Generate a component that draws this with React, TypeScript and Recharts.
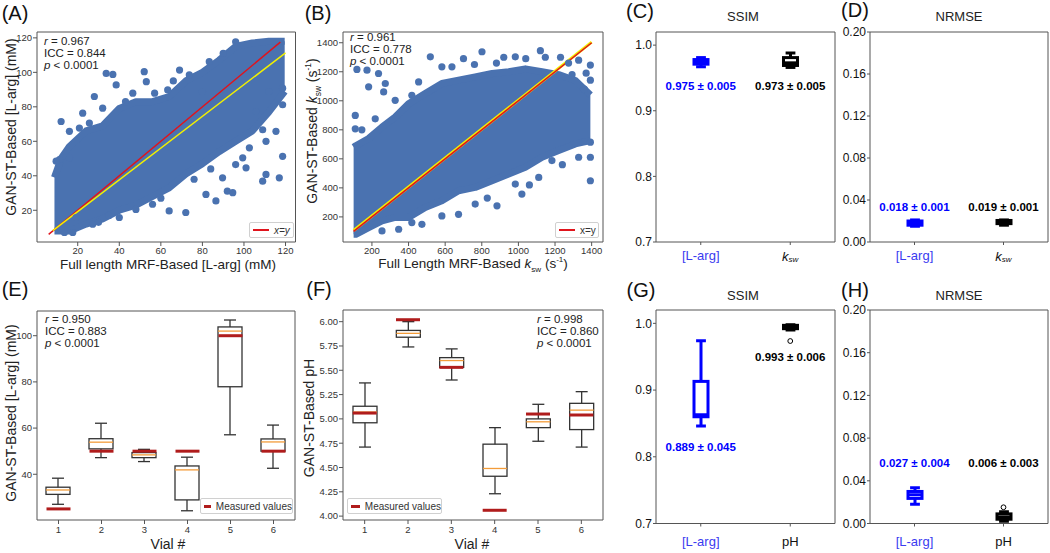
import React from 'react';
import {
  ComposedChart,
  Area,
  Scatter,
  Bar,
  XAxis,
  YAxis,
  ReferenceLine,
  ReferenceArea
} from 'recharts';

const NARROW = "'Liberation Sans Narrow', 'Liberation Sans', Arial, sans-serif";
const SANS = "'Liberation Sans', Arial, sans-serif";
const DOT = '#4a72b0';
const BLUE = '#0000ff';

// ---------- (A) L-arg scatter ----------
const lArgTicks = [20, 40, 60, 80, 100, 120];
// dense part of the cloud: lower / upper edge read along x
const lArgCore = [
  { x: 8.8, lo: 8, hi: 39 },
  { x: 12, lo: 8, hi: 50 },
  { x: 16, lo: 8, hi: 57 },
  { x: 24, lo: 12, hi: 66 },
  { x: 32, lo: 15, hi: 69 },
  { x: 40, lo: 20, hi: 79 },
  { x: 48, lo: 23, hi: 83 },
  { x: 56, lo: 28, hi: 83 },
  { x: 64, lo: 33, hi: 86 },
  { x: 72, lo: 41, hi: 95 },
  { x: 80, lo: 47, hi: 100 },
  { x: 88, lo: 54, hi: 107 },
  { x: 96, lo: 60, hi: 115 },
  { x: 104, lo: 66, hi: 117 },
  { x: 112, lo: 77, hi: 118 },
  { x: 119.6, lo: 89, hi: 118 }
];
const lArgPoints = [
  { x: 12, y: 71.5 }, { x: 28, y: 86 }, { x: 33.7, y: 99.4 }, { x: 36.9, y: 98.8 },
  { x: 38.5, y: 92.7 }, { x: 52, y: 100.4 }, { x: 53, y: 94.6 }, { x: 46.5, y: 87.9 },
  { x: 57, y: 87.9 }, { x: 69, y: 101.3 }, { x: 22.4, y: 76.3 }, { x: 16, y: 65.8 },
  { x: 20.8, y: 67.7 }, { x: 11.2, y: 49.4 }, { x: 16, y: 50.4 }, { x: 118.6, y: 51.3 },
  { x: 117, y: 38.8 }, { x: 109, y: 36.9 }, { x: 110.6, y: 40.8 }, { x: 92, y: 31.1 },
  { x: 94.6, y: 30.2 }, { x: 64, y: 19.6 }, { x: 72, y: 18.7 }, { x: 81.7, y: 29.2 },
  { x: 86.5, y: 25.4 }, { x: 109, y: 66.7 }, { x: 110.6, y: 60 }, { x: 115.4, y: 65.8 },
  { x: 102.6, y: 56.2 }, { x: 99.4, y: 50.4 }, { x: 101, y: 44.6 }, { x: 96, y: 46.5 },
  { x: 89.7, y: 38.8 }, { x: 105.8, y: 77.3 }, { x: 118.6, y: 81.2 }, { x: 112, y: 88.9 },
  { x: 118.6, y: 90.8 }, { x: 19.2, y: 15.8 }, { x: 17.6, y: 7.1 }, { x: 13.6, y: 7.1 },
  { x: 27.2, y: 11.9 }, { x: 40, y: 15.8 }, { x: 48, y: 20.5 }, { x: 56, y: 23.5 },
  { x: 73.7, y: 98.5 }, { x: 83.3, y: 106.2 }, { x: 96, y: 117.7 }, { x: 80, y: 88.9 },
  { x: 43, y: 83 }, { x: 63.3, y: 89.8 }, { x: 32, y: 79.2 }, { x: 9.6, y: 48.5 },
  { x: 25.6, y: 70.6 }, { x: 60, y: 27 }, { x: 76, y: 38 }, { x: 84, y: 44 },
  { x: 30, y: 13 }, { x: 35, y: 17 }, { x: 66, y: 95 }, { x: 90, y: 111 }
];
const lArgIdentity = [{ x: 6, y: 6 }, { x: 117.5, y: 117.5 }];
const lArgFit = [{ x: 8, y: 8.2 }, { x: 120, y: 111.3 }];

// ---------- (B) ksw scatter ----------
const kswTicks = [200, 400, 600, 800, 1000, 1200, 1400];
const kswCore = [
  { x: 100, lo: 80, hi: 680 },
  { x: 112, lo: 80, hi: 690 },
  { x: 182, lo: 126, hi: 740 },
  { x: 255, lo: 172, hi: 819 },
  { x: 327, lo: 196, hi: 888 },
  { x: 400, lo: 196, hi: 980 },
  { x: 491, lo: 265, hi: 1050 },
  { x: 582, lo: 311, hi: 1119 },
  { x: 673, lo: 380, hi: 1142 },
  { x: 764, lo: 403, hi: 1165 },
  { x: 856, lo: 449, hi: 1188 },
  { x: 947, lo: 496, hi: 1200 },
  { x: 1038, lo: 542, hi: 1220 },
  { x: 1129, lo: 611, hi: 1200 },
  { x: 1220, lo: 657, hi: 1180 },
  { x: 1311, lo: 703, hi: 1140 },
  { x: 1393, lo: 726, hi: 1040 }
];
const kswPoints = [
  { x: 109, y: 899 }, { x: 109, y: 807 }, { x: 145, y: 800 }, { x: 182, y: 1096 },
  { x: 173, y: 1211 }, { x: 236, y: 1188 }, { x: 273, y: 1119 }, { x: 264, y: 1061 },
  { x: 218, y: 876 }, { x: 327, y: 1003 }, { x: 418, y: 1038 }, { x: 455, y: 1130 },
  { x: 519, y: 1303 }, { x: 582, y: 1234 }, { x: 637, y: 1234 }, { x: 801, y: 1338 },
  { x: 983, y: 1303 }, { x: 1120, y: 1345 }, { x: 1329, y: 1280 }, { x: 1393, y: 1246 },
  { x: 1393, y: 1142 }, { x: 1393, y: 715 }, { x: 1393, y: 611 }, { x: 1393, y: 449 },
  { x: 1329, y: 611 }, { x: 1183, y: 588 }, { x: 1111, y: 472 }, { x: 1019, y: 357 },
  { x: 983, y: 426 }, { x: 883, y: 276 }, { x: 764, y: 288 }, { x: 673, y: 218 },
  { x: 582, y: 207 }, { x: 473, y: 149 }, { x: 418, y: 161 }, { x: 346, y: 115 },
  { x: 255, y: 103 }, { x: 118, y: 1216 }, { x: 1274, y: 1260 }, { x: 1293, y: 1180 },
  { x: 1147, y: 1300 }, { x: 700, y: 1290 }, { x: 880, y: 1260 }, { x: 1240, y: 560 },
  { x: 1060, y: 420 }, { x: 830, y: 330 }, { x: 1360, y: 1080 }, { x: 1370, y: 1190 },
  { x: 1040, y: 1290 }, { x: 920, y: 1300 }, { x: 760, y: 1250 }, { x: 1230, y: 1300 }
];
const kswIdentity = [{ x: 100, y: 100 }, { x: 1400, y: 1400 }];
const kswFit = [{ x: 100, y: 106 }, { x: 1400, y: 1404 }];

// ---------- (E) phantom L-arg per vial ----------
const vialTicks = [1, 2, 3, 4, 5, 6];
const lArgVialTicks = [40, 60, 80, 100];
const lArgVials = [
  { x: 1, min: 27.0, q1: 31.3, med: 33.2, q3: 34.4, max: 38.3 },
  { x: 2, min: 47.2, q1: 51.0, med: 53.9, q3: 55.4, max: 62.1 },
  { x: 3, min: 45.5, q1: 47.2, med: 48.4, q3: 49.4, max: 50.8 },
  { x: 4, min: 24.2, q1: 28.9, med: 41.9, q3: 43.6, max: 47.4 },
  { x: 5, min: 57.1, q1: 77.9, med: 102.0, q3: 103.8, max: 106.8 },
  { x: 6, min: 42.6, q1: 50.0, med: 54.0, q3: 55.3, max: 61.3 }
];
const lArgMeasured = [
  { x: 1, y: 25 }, { x: 2, y: 50 }, { x: 3, y: 50 },
  { x: 4, y: 50 }, { x: 5, y: 100 }, { x: 6, y: 50 }
];

// ---------- (F) phantom pH per vial ----------
const pHVialTicks = [4.0, 4.25, 4.5, 4.75, 5.0, 5.25, 5.5, 5.75, 6.0];
const pHVials = [
  { x: 1, min: 4.71, q1: 4.96, med: 5.07, q3: 5.13, max: 5.37 },
  { x: 2, min: 5.74, q1: 5.84, med: 5.88, q3: 5.91, max: 6.0 },
  { x: 3, min: 5.4, q1: 5.53, med: 5.6, q3: 5.63, max: 5.72 },
  { x: 4, min: 4.23, q1: 4.41, med: 4.49, q3: 4.74, max: 4.91 },
  { x: 5, min: 4.77, q1: 4.91, med: 4.97, q3: 5.0, max: 5.15 },
  { x: 6, min: 4.71, q1: 4.89, med: 5.09, q3: 5.16, max: 5.28 }
];
const pHMeasured = [
  { x: 1, y: 5.06 }, { x: 2, y: 6.02 }, { x: 3, y: 5.53 },
  { x: 4, y: 4.06 }, { x: 5, y: 5.05 }, { x: 6, y: 5.04 }
];

// ---------- (C,D,G,H) SSIM / NRMSE ----------
const ssimTicks = [0.7, 0.8, 0.9, 1.0];
const nrmseTicks = [0, 0.04, 0.08, 0.12, 0.16, 0.2];
const topCats = ['[L-arg]', 'ksw'];
const bottomCats = ['[L-arg]', 'pH'];

const ssimTop = [
  { x: 0, min: 0.967, q1: 0.971, med: 0.975, q3: 0.978, max: 0.981, color: BLUE },
  { x: 1, min: 0.966, q1: 0.969, med: 0.973, q3: 0.981, max: 0.988, color: '#000' }
];
const ssimTopText = [
  { x: 0, y: 0.938, text: '0.975 ± 0.005', color: BLUE },
  { x: 1, y: 0.938, text: '0.973 ± 0.005', color: '#000' }
];
const nrmseTop = [
  { x: 0, min: 0.015, q1: 0.016, med: 0.018, q3: 0.02, max: 0.021, color: BLUE },
  { x: 1, min: 0.016, q1: 0.0175, med: 0.019, q3: 0.0205, max: 0.021, color: '#000' }
];
const nrmseTopText = [
  { x: 0, y: 0.0336, text: '0.018 ± 0.001', color: BLUE },
  { x: 1, y: 0.0336, text: '0.019 ± 0.001', color: '#000' }
];
const ssimBottom = [
  { x: 0, min: 0.846, q1: 0.86, med: 0.863, q3: 0.913, max: 0.974, color: BLUE },
  { x: 1, min: 0.99, q1: 0.992, med: 0.995, q3: 0.997, max: 0.998, color: '#000' }
];
const ssimBottomText = [
  { x: 0, y: 0.814, text: '0.889 ± 0.045', color: BLUE },
  { x: 1, y: 0.949, text: '0.993 ± 0.006', color: '#000' }
];
const ssimBottomOutliers = [{ x: 1, y: 0.9735 }];
const nrmseBottom = [
  { x: 0, min: 0.018, q1: 0.0235, med: 0.027, q3: 0.03, max: 0.0335, color: BLUE },
  { x: 1, min: 0.002, q1: 0.004, med: 0.006, q3: 0.009, max: 0.011, color: '#000' }
];
const nrmseBottomText = [
  { x: 0, y: 0.0564, text: '0.027 ± 0.004', color: BLUE },
  { x: 1, y: 0.0564, text: '0.006 ± 0.003', color: '#000' }
];
const nrmseBottomOutliers = [{ x: 1, y: 0.0152 }];

type Frame = { l: number; r: number; t: number; b: number };
const MT = 6;
const MR = 6;

const boxShape = (opts: { stroke?: string; median?: string; lw: number; capRatio: number }) => (p: any) => {
  const { x, y, width, height, payload } = p;
  if (x == null || !payload) return <g />;
  const top = Math.min(y, y + height);
  const h = Math.abs(height);
  const span = payload.max - payload.min || 1;
  const py = (v: number) => top + (h * (payload.max - v)) / span;
  const cx = x + width / 2;
  const cap = width * opts.capRatio;
  const col = opts.stroke || payload.color;
  const med = opts.median || payload.color;
  return (
    <g>
      <line x1={cx} x2={cx} y1={py(payload.max)} y2={py(payload.q3)} stroke={col} strokeWidth={opts.lw} />
      <line x1={cx} x2={cx} y1={py(payload.q1)} y2={py(payload.min)} stroke={col} strokeWidth={opts.lw} />
      <line x1={cx - cap} x2={cx + cap} y1={py(payload.max)} y2={py(payload.max)} stroke={col} strokeWidth={opts.lw} />
      <line x1={cx - cap} x2={cx + cap} y1={py(payload.min)} y2={py(payload.min)} stroke={col} strokeWidth={opts.lw} />
      <rect x={x} y={py(payload.q3)} width={width} height={py(payload.q1) - py(payload.q3)} fill="none" stroke={col} strokeWidth={opts.lw} />
      <line x1={x} x2={x + width} y1={py(payload.med)} y2={py(payload.med)} stroke={med} strokeWidth={opts.lw} />
    </g>
  );
};

const vialBox = boxShape({ stroke: '#333', median: '#f39c3a', lw: 1.3, capRatio: 0.25 });
const metricBox = boxShape({ lw: 3, capRatio: 0.35 });

const dotShape = (p: any) => <circle cx={p.cx} cy={p.cy} r={3.6} fill={DOT} />;
const measuredShape = (p: any) => (
  <line x1={p.cx - 12} x2={p.cx + 12} y1={p.cy} y2={p.cy} stroke="#b01c1c" strokeWidth={3} />
);
const outlierShape = (p: any) => <circle cx={p.cx} cy={p.cy} r={2.4} fill="#fff" stroke="#000" strokeWidth={1} />;
const labelShape = (p: any) => (
  <text x={p.cx} y={p.cy} textAnchor="middle" dominantBaseline="central" fontFamily={SANS} fontWeight="bold" fontSize={11.5} fill={p.payload.color}>
    {p.payload.text}
  </text>
);

const smallTick = { fontSize: 9.5, fill: '#333', fontFamily: NARROW };
const bigTick = { fontSize: 12, fill: '#111', fontFamily: SANS };

const CatTick = (props: any) => {
  const { x, y, payload, cats, dy } = props;
  const c = cats[payload.value];
  if (c === 'ksw') {
    return (
      <text x={x} y={y + dy} textAnchor="middle" dominantBaseline="central" fontFamily={SANS} fontSize={13} fill="#111">
        <tspan fontStyle="italic">k</tspan>
        <tspan fontSize={8} dy={3} fontStyle="italic">sw</tspan>
      </text>
    );
  }
  return (
    <text x={x} y={y + dy} textAnchor="middle" dominantBaseline="central" fontFamily={SANS} fontSize={13} fill={c === 'pH' ? '#111' : '#3b3bf0'}>
      {c}
    </text>
  );
};

function chartBox(f: Frame, yw: number, xh: number) {
  return {
    pos: { position: 'absolute' as const, left: f.l - yw, top: f.t - MT },
    width: f.r - f.l + yw + MR,
    height: f.b - f.t + MT + xh,
    margin: { top: MT, right: MR, left: 0, bottom: 0 }
  };
}

function ScatterPanel(props: {
  f: Frame; xDomain: number[]; yDomain: number[]; xTicks: number[]; yTicks: number[];
  core: any[]; points: any[]; identity: any[]; fit: any[]; fitFirst?: boolean;
}) {
  const { f, xDomain, yDomain, xTicks, yTicks, core, points, identity, fit } = props;
  const c = chartBox(f, 34, 20);
  const fitLine = <ReferenceLine segment={fit as any} stroke="#f2f000" strokeWidth={props.fitFirst ? 3 : 1.5} ifOverflow="visible" />;
  const idLine = <ReferenceLine segment={identity as any} stroke="#e0141c" strokeWidth={1.5} ifOverflow="visible" />;
  return (
    <div style={c.pos}>
      <ComposedChart width={c.width} height={c.height} data={core} margin={c.margin}>
        <XAxis dataKey="x" type="number" domain={xDomain} ticks={xTicks} allowDataOverflow axisLine={false}
          tickLine={{ stroke: '#555' }} tickSize={4} tickMargin={1} tick={smallTick} height={20} interval={0} />
        <YAxis type="number" domain={yDomain} ticks={yTicks} allowDataOverflow axisLine={false}
          tickLine={{ stroke: '#555' }} tickSize={4} tickMargin={1} tick={smallTick} width={34} interval={0} />
        <Area type="linear" dataKey={(d: any) => [d.lo, d.hi]} fill={DOT} fillOpacity={1} stroke={DOT}
          strokeWidth={7} strokeLinejoin="round" dot={false} activeDot={false} isAnimationActive={false} />
        <Scatter data={points} dataKey="y" shape={dotShape} isAnimationActive={false} />
        {props.fitFirst ? fitLine : idLine}
        {props.fitFirst ? idLine : fitLine}
        <ReferenceArea x1={xDomain[0]} x2={xDomain[1]} y1={yDomain[0]} y2={yDomain[1]} fill="none" stroke="#555" strokeWidth={1} ifOverflow="visible" />
      </ComposedChart>
    </div>
  );
}

function VialPanel(props: {
  f: Frame; yDomain: number[]; yTicks: number[]; fmt: (v: number) => string; boxes: any[]; measured: any[];
}) {
  const { f, yDomain, yTicks, fmt, boxes, measured } = props;
  const c = chartBox(f, 34, 20);
  const xDomain = [0.5, 6.5];
  return (
    <div style={c.pos}>
      <ComposedChart width={c.width} height={c.height} data={boxes} margin={c.margin}>
        <XAxis dataKey="x" type="number" domain={xDomain} ticks={vialTicks} allowDataOverflow axisLine={false}
          tickLine={{ stroke: '#555' }} tickSize={4} tickMargin={2} tick={smallTick} height={20} interval={0} />
        <YAxis type="number" domain={yDomain} ticks={yTicks} tickFormatter={fmt} allowDataOverflow axisLine={false}
          tickLine={{ stroke: '#555' }} tickSize={4} tickMargin={1} tick={smallTick} width={34} interval={0} />
        <Bar dataKey={(d: any) => [d.min, d.max]} barSize={24} shape={vialBox} isAnimationActive={false} />
        <Scatter data={measured} dataKey="y" shape={measuredShape} isAnimationActive={false} />
        <ReferenceArea x1={xDomain[0]} x2={xDomain[1]} y1={yDomain[0]} y2={yDomain[1]} fill="none" stroke="#555" strokeWidth={1} ifOverflow="visible" />
      </ComposedChart>
    </div>
  );
}

function MetricPanel(props: {
  f: Frame; yDomain: number[]; yTicks: number[]; fmt: (v: number) => string; boxes: any[];
  labels: any[]; outliers?: any[]; cats: string[]; catDy: number;
}) {
  const { f, yDomain, yTicks, fmt, boxes, labels, outliers, cats, catDy } = props;
  const c = chartBox(f, 36, 30);
  const xDomain = [-0.5, 1.5];
  return (
    <div style={c.pos}>
      <ComposedChart width={c.width} height={c.height} data={boxes} margin={c.margin}>
        <XAxis dataKey="x" type="number" domain={xDomain} ticks={[0, 1]} allowDataOverflow axisLine={false}
          tickLine={{ stroke: '#555' }} tickSize={3} tickMargin={2} height={30} interval={0}
          tick={<CatTick cats={cats} dy={catDy} />} />
        <YAxis type="number" domain={yDomain} ticks={yTicks} tickFormatter={fmt} allowDataOverflow axisLine={false}
          tickLine={{ stroke: '#555' }} tickSize={3} tickMargin={1} tick={bigTick} width={36} interval={0} />
        <Bar dataKey={(d: any) => [d.min, d.max]} barSize={14} shape={metricBox} isAnimationActive={false} />
        {outliers && <Scatter data={outliers} dataKey="y" shape={outlierShape} isAnimationActive={false} />}
        <Scatter data={labels} dataKey="y" shape={labelShape} isAnimationActive={false} />
        <ReferenceArea x1={xDomain[0]} x2={xDomain[1]} y1={yDomain[0]} y2={yDomain[1]} fill="none" stroke="#555" strokeWidth={1} ifOverflow="visible" />
      </ComposedChart>
    </div>
  );
}

const Txt = (p: {
  x: number; y: number; children: React.ReactNode; size?: number; family?: string;
  center?: boolean; rotate?: boolean; color?: string; weight?: number;
}) => (
  <div
    style={{
      position: 'absolute',
      left: p.x,
      top: p.y,
      transform: p.rotate ? 'translate(-50%,-50%) rotate(-90deg)' : p.center ? 'translate(-50%,-50%)' : 'translateY(-50%)',
      fontSize: p.size || 11.5,
      fontFamily: p.family || NARROW,
      color: p.color || '#222',
      fontWeight: p.weight || 400,
      whiteSpace: 'nowrap',
      lineHeight: 1
    }}
  >
    {p.children}
  </div>
);

const Stats = ({ x, y, r, icc }: { x: number; y: number; r: string; icc: string }) => (
  <>
    <Txt x={x} y={y}><i>r</i> = {r}</Txt>
    <Txt x={x} y={y + 12}>ICC = {icc}</Txt>
    <Txt x={x} y={y + 24}><i>p</i> &lt; 0.0001</Txt>
  </>
);

const LegendBox = ({ x, y, w, children }: { x: number; y: number; w: number; children: React.ReactNode }) => (
  <div style={{
    position: 'absolute', left: x, top: y, width: w, height: 16, boxSizing: 'border-box',
    background: '#fff', border: '1px solid #d0d0d0', borderRadius: 2,
    display: 'flex', alignItems: 'center', paddingLeft: 3, gap: 5,
    fontFamily: NARROW, fontSize: 10, color: '#333', whiteSpace: 'nowrap'
  }}>
    {children}
  </div>
);

export default function App() {
  const ksw = <><i>k</i><sub style={{ fontSize: '0.6em' }}>sw</sub></>;
  const inv = <sup style={{ fontSize: '0.6em' }}>-1</sup>;
  return (
    <div style={{ position: 'absolute', left: 0, top: 0, width: 1050, height: 553, background: '#fff', overflow: 'hidden' }}>
      <ScatterPanel f={{ l: 36.5, r: 295, t: 32, b: 242 }} xDomain={[0.4, 124.8]} yDomain={[1.6, 123.4]}
        xTicks={lArgTicks} yTicks={lArgTicks} core={lArgCore} points={lArgPoints} identity={lArgIdentity} fit={lArgFit} />
      <ScatterPanel f={{ l: 343, r: 603, t: 32, b: 242 }} xDomain={[42, 1462]} yDomain={[27, 1474]}
        xTicks={kswTicks} yTicks={kswTicks} core={kswCore} points={kswPoints} identity={kswIdentity} fit={kswFit} fitFirst />
      <MetricPanel f={{ l: 656, r: 835, t: 32, b: 242 }} yDomain={[0.7, 1.02]} yTicks={ssimTicks} fmt={(v) => v.toFixed(1)}
        boxes={ssimTop} labels={ssimTopText} cats={topCats} catDy={8.5} />
      <MetricPanel f={{ l: 870, r: 1048, t: 32, b: 242 }} yDomain={[0, 0.2]} yTicks={nrmseTicks} fmt={(v) => v.toFixed(2)}
        boxes={nrmseTop} labels={nrmseTopText} cats={topCats} catDy={8.5} />
      <VialPanel f={{ l: 37, r: 295, t: 311, b: 520 }} yDomain={[20.2, 110.7]} yTicks={lArgVialTicks} fmt={(v) => String(v)}
        boxes={lArgVials} measured={lArgMeasured} />
      <VialPanel f={{ l: 343, r: 603, t: 310, b: 520 }} yDomain={[3.96, 6.12]} yTicks={pHVialTicks} fmt={(v) => v.toFixed(2)}
        boxes={pHVials} measured={pHMeasured} />
      <MetricPanel f={{ l: 656, r: 835, t: 310, b: 523.5 }} yDomain={[0.7, 1.02]} yTicks={ssimTicks} fmt={(v) => v.toFixed(1)}
        boxes={ssimBottom} labels={ssimBottomText} outliers={ssimBottomOutliers} cats={bottomCats} catDy={13} />
      <MetricPanel f={{ l: 870, r: 1048, t: 310, b: 523.5 }} yDomain={[0, 0.2]} yTicks={nrmseTicks} fmt={(v) => v.toFixed(2)}
        boxes={nrmseBottom} labels={nrmseBottomText} outliers={nrmseBottomOutliers} cats={bottomCats} catDy={13} />

      {/* panel letters */}
      <Txt x={15} y={13} size={20} family={SANS} center color="#111">(A)</Txt>
      <Txt x={318} y={13} size={20} family={SANS} center color="#111">(B)</Txt>
      <Txt x={640} y={11} size={20} family={SANS} center color="#111">(C)</Txt>
      <Txt x={855} y={10} size={20} family={SANS} center color="#111">(D)</Txt>
      <Txt x={15} y={289} size={20} family={SANS} center color="#111">(E)</Txt>
      <Txt x={319} y={289} size={20} family={SANS} center color="#111">(F)</Txt>
      <Txt x={641} y={290} size={20} family={SANS} center color="#111">(G)</Txt>
      <Txt x={855} y={290} size={20} family={SANS} center color="#111">(H)</Txt>

      {/* titles */}
      <Txt x={743} y={16} size={13} family={SANS} center>SSIM</Txt>
      <Txt x={959} y={16} size={13} family={SANS} center>NRMSE</Txt>
      <Txt x={743} y={295} size={13} family={SANS} center>SSIM</Txt>
      <Txt x={959} y={295} size={13} family={SANS} center>NRMSE</Txt>

      {/* stats */}
      <Stats x={44} y={42} r="0.967" icc="0.844" />
      <Stats x={350} y={38} r="0.961" icc="0.778" />
      <Stats x={45} y={320} r="0.950" icc="0.883" />
      <Stats x={537} y={320} r="0.998" icc="0.860" />

      {/* axis titles */}
      <Txt x={168} y={265} size={13.5} center>Full length MRF-Based [L-arg] (mM)</Txt>
      <Txt x={473} y={265} size={13.5} center>Full Length MRF-Based {ksw} (s{inv})</Txt>
      <Txt x={168} y={544} size={14} center>Vial #</Txt>
      <Txt x={472} y={544} size={14} center>Vial #</Txt>
      <Txt x={11} y={127} size={14} rotate>GAN-ST-Based [L-arg] (mM)</Txt>
      <Txt x={313} y={131} size={14} rotate>GAN-ST-Based {ksw} (s{inv})</Txt>
      <Txt x={11} y={413} size={14} rotate>GAN-ST-Based [L-arg] (mM)</Txt>
      <Txt x={309} y={418} size={14} rotate>GAN-ST-Based pH</Txt>

      {/* legends */}
      <LegendBox x={249} y={222} w={45}>
        <span style={{ width: 16, height: 2, background: '#e0141c', display: 'inline-block' }} />
        <i>x=y</i>
      </LegendBox>
      <LegendBox x={555} y={222} w={44}>
        <span style={{ width: 16, height: 2, background: '#e0141c', display: 'inline-block' }} />
        x=y
      </LegendBox>
      <LegendBox x={200} y={498} w={93}>
        <span style={{ width: 16, height: 3, background: '#b01c1c', display: 'inline-block' }} />
        Measured values
      </LegendBox>
      <LegendBox x={347} y={498} w={95}>
        <span style={{ width: 16, height: 3, background: '#b01c1c', display: 'inline-block' }} />
        Measured values
      </LegendBox>
    </div>
  );
}
